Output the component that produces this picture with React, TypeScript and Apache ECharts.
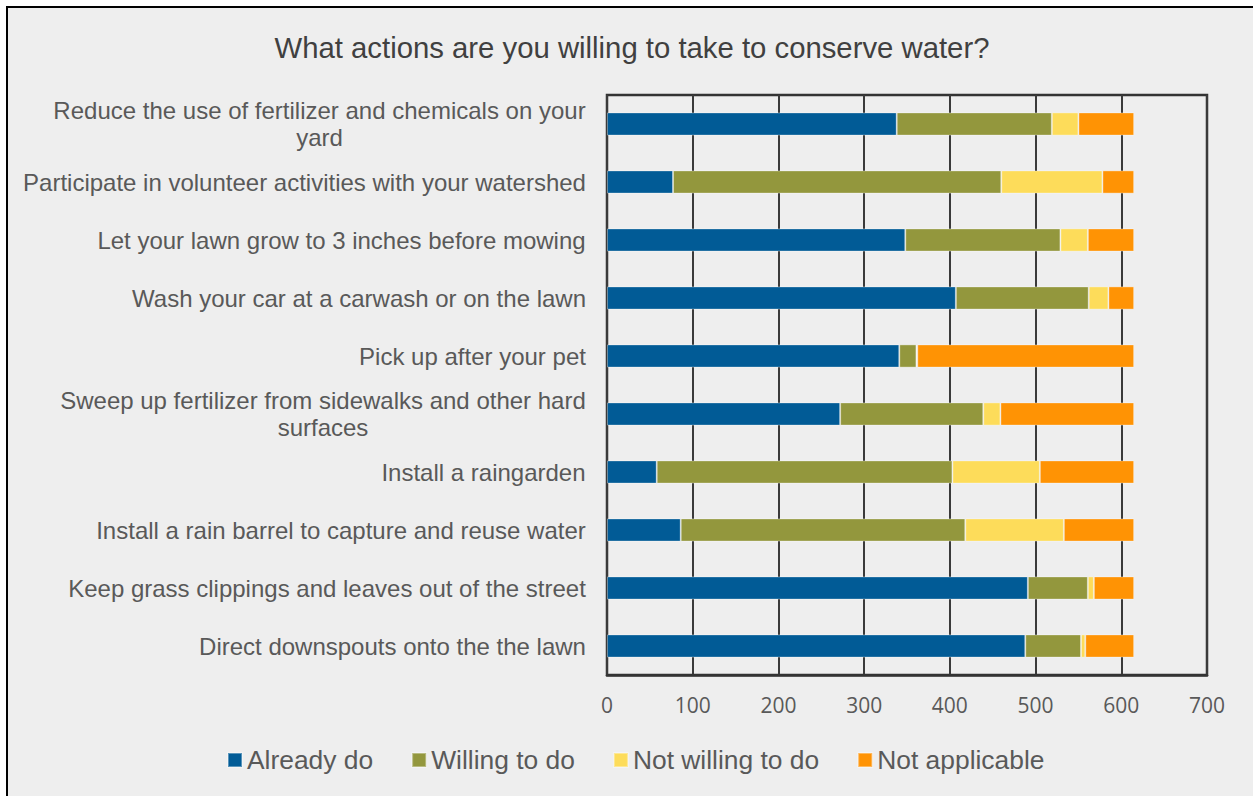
import React, { useEffect, useRef } from "react";
import * as echarts from "echarts";

const titleText = "What actions are you willing to take to conserve water?";
const categories = [
  "Reduce the use of fertilizer and chemicals on your yard",
  "Participate in volunteer activities with your watershed",
  "Let your lawn grow to 3 inches before mowing",
  "Wash your car at a carwash or on the lawn",
  "Pick up after your pet",
  "Sweep up fertilizer from sidewalks and other hard surfaces",
  "Install a raingarden",
  "Install a rain barrel to capture and reuse water",
  "Keep grass clippings and leaves out of the street",
  "Direct downspouts onto the the lawn",
];
const seriesNames = ["Already do", "Willing to do", "Not willing to do", "Not applicable"];
const alreadyDo = [338, 77, 348, 407, 341, 272, 58, 86, 491, 488];
const willingToDo = [181, 383, 181, 155, 20, 167, 345, 332, 70, 65];
const notWillingToDo = [31, 118, 32, 23, 1, 20, 102, 115, 7, 5];
const notApplicable = [65, 37, 54, 30, 253, 156, 110, 82, 47, 57];
const colors = ["#015b96", "#93973d", "#fddc5a", "#ff9304"];
const xTicks = { min: 0, max: 700, interval: 100 };

const FONT = "'Liberation Sans', Arial, sans-serif";
const LABEL_SIZE = 24;
const LABEL_MAX = 566;

function wrapLabel(text: string, ctx: CanvasRenderingContext2D | null) {
  const measure = (s: string) => (ctx ? ctx.measureText(s).width : s.length * 10.5);
  const words = text.split(" ");
  const lines: string[] = [];
  let cur = "";
  for (const w of words) {
    const t = cur ? cur + " " + w : w;
    if (measure(t) > LABEL_MAX && cur) {
      lines.push(cur);
      cur = w;
    } else cur = t;
  }
  if (cur) lines.push(cur);
  const width = Math.max(...lines.map(measure));
  return { lines, width: Math.ceil(width) };
}

export default function App() {
  const ref = useRef<HTMLDivElement>(null);
  useEffect(() => {
    if (!ref.current) return;
    const chart = echarts.init(ref.current, undefined, { renderer: "svg" });
    const values = [alreadyDo, willingToDo, notWillingToDo, notApplicable];
    const canvas = document.createElement("canvas");
    const ctx = canvas.getContext("2d");
    if (ctx) ctx.font = `${LABEL_SIZE}px 'Liberation Sans', Arial, sans-serif`;
    const wrapped = categories.map((c) => wrapLabel(c, ctx));
    const rich: Record<string, any> = {};
    wrapped.forEach((w, i) => {
      rich["c" + i] = {
        width: w.width,
        align: "center",
        fontFamily: FONT,
        fontSize: LABEL_SIZE,
        color: "#595959",
        lineHeight: 27,
      };
    });
    chart.setOption({
      animation: false,
      backgroundColor: "#eeeeee",
      title: {
        text: titleText,
        left: 627,
        top: 28,
        textAlign: "center",
        textStyle: { fontFamily: FONT, fontSize: 29.3, fontWeight: "normal", color: "#404040" },
      },
      legend: {
        data: seriesNames,
        left: 227,
        top: 747,
        padding: 0,
        icon: "rect",
        itemWidth: 14,
        itemHeight: 14,
        itemGap: 38,
        textStyle: { fontFamily: FONT, fontSize: 26.4, color: "#595959" },
      },
      grid: {
        left: 607,
        right: 46,
        top: 95,
        bottom: 121,
        show: true,
        borderColor: "#333333",
        borderWidth: 2.5,
        backgroundColor: "transparent",
      },
      xAxis: {
        type: "value",
        min: xTicks.min,
        max: xTicks.max,
        interval: xTicks.interval,
        axisLine: { show: true, lineStyle: { color: "#333333", width: 2.5 } },
        axisTick: { show: false },
        splitLine: { show: true, lineStyle: { color: "#3a3a3a", width: 2 } },
        axisLabel: { fontFamily: "'Open Sans', sans-serif", fontSize: 21, color: "#595959", margin: 19 },
      },
      yAxis: {
        type: "category",
        data: categories,
        inverse: true,
        axisLine: { show: false },
        axisTick: { show: false },
        axisLabel: {
          fontFamily: FONT,
          fontSize: LABEL_SIZE,
          color: "#595959",
          margin: 21,
          align: "right",
          lineHeight: 27,
          formatter: (_v: string, i: number) => {
            const w = wrapped[i];
            return w.lines.map((l) => `{c${i}|${l}}`).join("\n");
          },
          rich,
        },
      },
      graphic: [
        { type: "rect", shape: { x: 0, y: 0, width: 1253, height: 6 }, style: { fill: "#ffffff" } },
        { type: "rect", shape: { x: 0, y: 0, width: 6, height: 796 }, style: { fill: "#ffffff" } },
        { type: "rect", shape: { x: 6, y: 6, width: 1247, height: 2 }, style: { fill: "#000000" } },
        { type: "rect", shape: { x: 6, y: 6, width: 2, height: 790 }, style: { fill: "#000000" } },
      ],
      series: seriesNames.map((name, i) => ({
        name,
        type: "bar",
        stack: "total",
        data: values[i],
        barCategoryGap: "60%",
        itemStyle: { color: colors[i], borderColor: "rgba(255,255,255,0.35)", borderWidth: 1 },
      })),
    });
    return () => chart.dispose();
  }, []);
  return (
    <div
      ref={ref}
      style={{ position: "absolute", left: 0, top: 0, width: 1253, height: 796 }}
    />
  );
}
